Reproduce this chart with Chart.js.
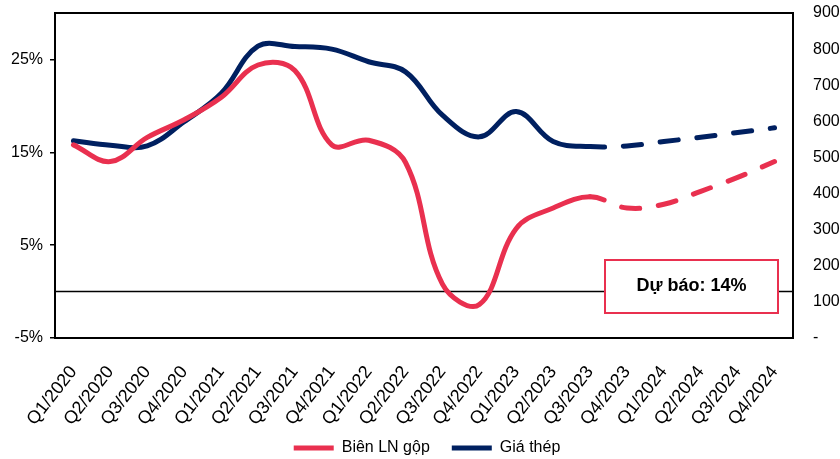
<!DOCTYPE html>
<html>
<head>
<meta charset="utf-8">
<script src="https://cdn.jsdelivr.net/npm/chart.js@4.4.0/dist/chart.umd.min.js"></script>
<style>
  html, body { margin: 0; padding: 0; background: #ffffff; overflow: hidden; }
  canvas { display: block; }
</style>
</head>
<body>
<canvas id="chart" width="840" height="459"></canvas>
<script>
// Quarterly gross margin (%) and steel price, 2020 - 2024 (forecast from Q3/2023 on)
const quarters = [
  'Q1/2020', 'Q2/2020', 'Q3/2020', 'Q4/2020',
  'Q1/2021', 'Q2/2021', 'Q3/2021', 'Q4/2021',
  'Q1/2022', 'Q2/2022', 'Q3/2022', 'Q4/2022',
  'Q1/2023', 'Q2/2023', 'Q3/2023', 'Q4/2023',
  'Q1/2024', 'Q2/2024', 'Q3/2024', 'Q4/2024'
];
const grossMargin = [15.8, 14.0, 16.6, 18.5, 20.9, 24.4, 23.8, 15.8, 16.3, 13.9,
                     0.8, -1.4, 6.8, 9.0, 10.2, 9.0, 9.4, 10.8, 12.3, 14.0];
const steelPrice  = [546, 534, 532, 599, 677, 808, 807, 800, 765, 737,
                     617, 557, 627, 544, 530, 532, 544, 556, 569, 582];
const forecastFrom = 14;            // segments after this index are dashed
const marginTicks = [-5, 5, 15, 25];
const priceTicks  = [0, 100, 200, 300, 400, 500, 600, 700, 800, 900];

const RED = '#E9304F';
const NAVY = '#002060';
const FONT = "'Liberation Sans', Arial, sans-serif";

const dashed = (ctx, val) => ctx.p0DataIndex >= forecastFrom ? val : undefined;

// keep the value axes from reserving extra room above/below the plot
const noVerticalPadding = (scale, width) => {
  scale.width = width;
  scale.paddingTop = 0;
  scale.paddingBottom = 0;
};

// Plot frame, zero line and forecast call-out
const framePlugin = {
  id: 'framePlugin',
  afterLayout(chart) {
    // let the slanted quarter labels run under the legend row, and sit the legend lower
    const x = chart.scales.x;
    x.bottom += 30; x.height += 30;
    const lg = chart.legend;
    if (lg) { lg.top += 7; lg.bottom += 7; lg.left += 7; lg.right += 7; }
  },
  beforeDatasetsDraw(chart) {
    const { ctx, chartArea: a, scales } = chart;
    const y0 = scales.y.getPixelForValue(0);
    ctx.save();
    ctx.strokeStyle = '#000';
    ctx.lineWidth = 1.5;
    ctx.beginPath();
    ctx.moveTo(a.left, y0);
    ctx.lineTo(a.right, y0);
    ctx.stroke();
    ctx.restore();
  },
  afterDatasetsDraw(chart) {
    const { ctx, chartArea: a } = chart;
    ctx.save();
    ctx.strokeStyle = '#000';
    ctx.lineWidth = 2;
    ctx.strokeRect(a.left, a.top, a.right - a.left, a.bottom - a.top);

    // forecast box
    const bx = a.right - 188, by = a.bottom - 78, bw = 173, bh = 53;
    ctx.fillStyle = '#fff';
    ctx.fillRect(bx, by, bw, bh);
    ctx.strokeStyle = RED;
    ctx.lineWidth = 2;
    ctx.strokeRect(bx, by, bw, bh);
    ctx.fillStyle = '#000';
    ctx.font = "bold 18px " + FONT;
    ctx.textAlign = 'center';
    ctx.textBaseline = 'middle';
    const last = grossMargin[grossMargin.length - 1];
    ctx.fillText('Dự báo: ' + last + '%', bx + bw / 2, by + bh / 2);
    ctx.restore();
  }
};

new Chart(document.getElementById('chart'), {
  type: 'line',
  data: {
    labels: quarters,
    datasets: [
      {
        label: 'Biên LN gộp',
        data: grossMargin,
        yAxisID: 'y',
        borderColor: RED,
        backgroundColor: RED,
        borderWidth: 5,
        borderCapStyle: 'round',
        pointRadius: 0,
        tension: 0.38,
        segment: {
          borderDash: ctx => dashed(ctx, [18, 19]),
          borderDashOffset: ctx => dashed(ctx, 3.5)
        }
      },
      {
        label: 'Giá thép',
        data: steelPrice,
        yAxisID: 'y1',
        borderColor: NAVY,
        backgroundColor: NAVY,
        borderWidth: 5,
        borderCapStyle: 'round',
        pointRadius: 0,
        tension: 0.38,
        segment: {
          borderDash: ctx => dashed(ctx, [18, 19]),
          borderDashOffset: ctx => dashed(ctx, 3.5)
        }
      }
    ]
  },
  options: {
    responsive: false,
    animation: false,
    layout: { padding: { top: 13, left: 0, right: 0, bottom: 0 } },
    plugins: {
      tooltip: { enabled: false },
      legend: {
        position: 'bottom',
        labels: {
          usePointStyle: true,
          pointStyle: 'line',
          pointStyleWidth: 40,
          padding: 22,
          color: '#000',
          font: { family: FONT, size: 16 }
        }
      }
    },
    scales: {
      x: {
        offset: true,
        grid: { display: false, drawTicks: false },
        border: { display: false },
        ticks: {
          color: '#000',
          font: { family: FONT, size: 18 },
          minRotation: 52,
          maxRotation: 52,
          autoSkip: false,
          padding: 24
        },
        afterFit(scale) { scale.height = 73; }
      },
      y: {
        position: 'left',
        min: -5,
        max: 30,
        grid: { drawOnChartArea: false, drawTicks: true, tickLength: 5, color: '#000', lineWidth: 1.5 },
        border: { display: false },
        ticks: {
          color: '#000',
          font: { family: FONT, size: 16 },
          padding: 7,
          callback: v => v + '%'
        },
        afterBuildTicks(scale) { scale.ticks = marginTicks.map(v => ({ value: v })); },
        afterFit(scale) { noVerticalPadding(scale, 55); }
      },
      y1: {
        position: 'right',
        min: 0,
        max: 900,
        grid: { drawOnChartArea: false, drawTicks: false },
        border: { display: false },
        ticks: {
          color: '#000',
          font: { family: FONT, size: 16 },
          padding: 20,
          callback: v => v === 0 ? '-' : String(v)
        },
        afterBuildTicks(scale) { scale.ticks = priceTicks.map(v => ({ value: v })); },
        afterFit(scale) { noVerticalPadding(scale, 47); }
      }
    }
  },
  plugins: [framePlugin]
});
</script>
</body>
</html>
